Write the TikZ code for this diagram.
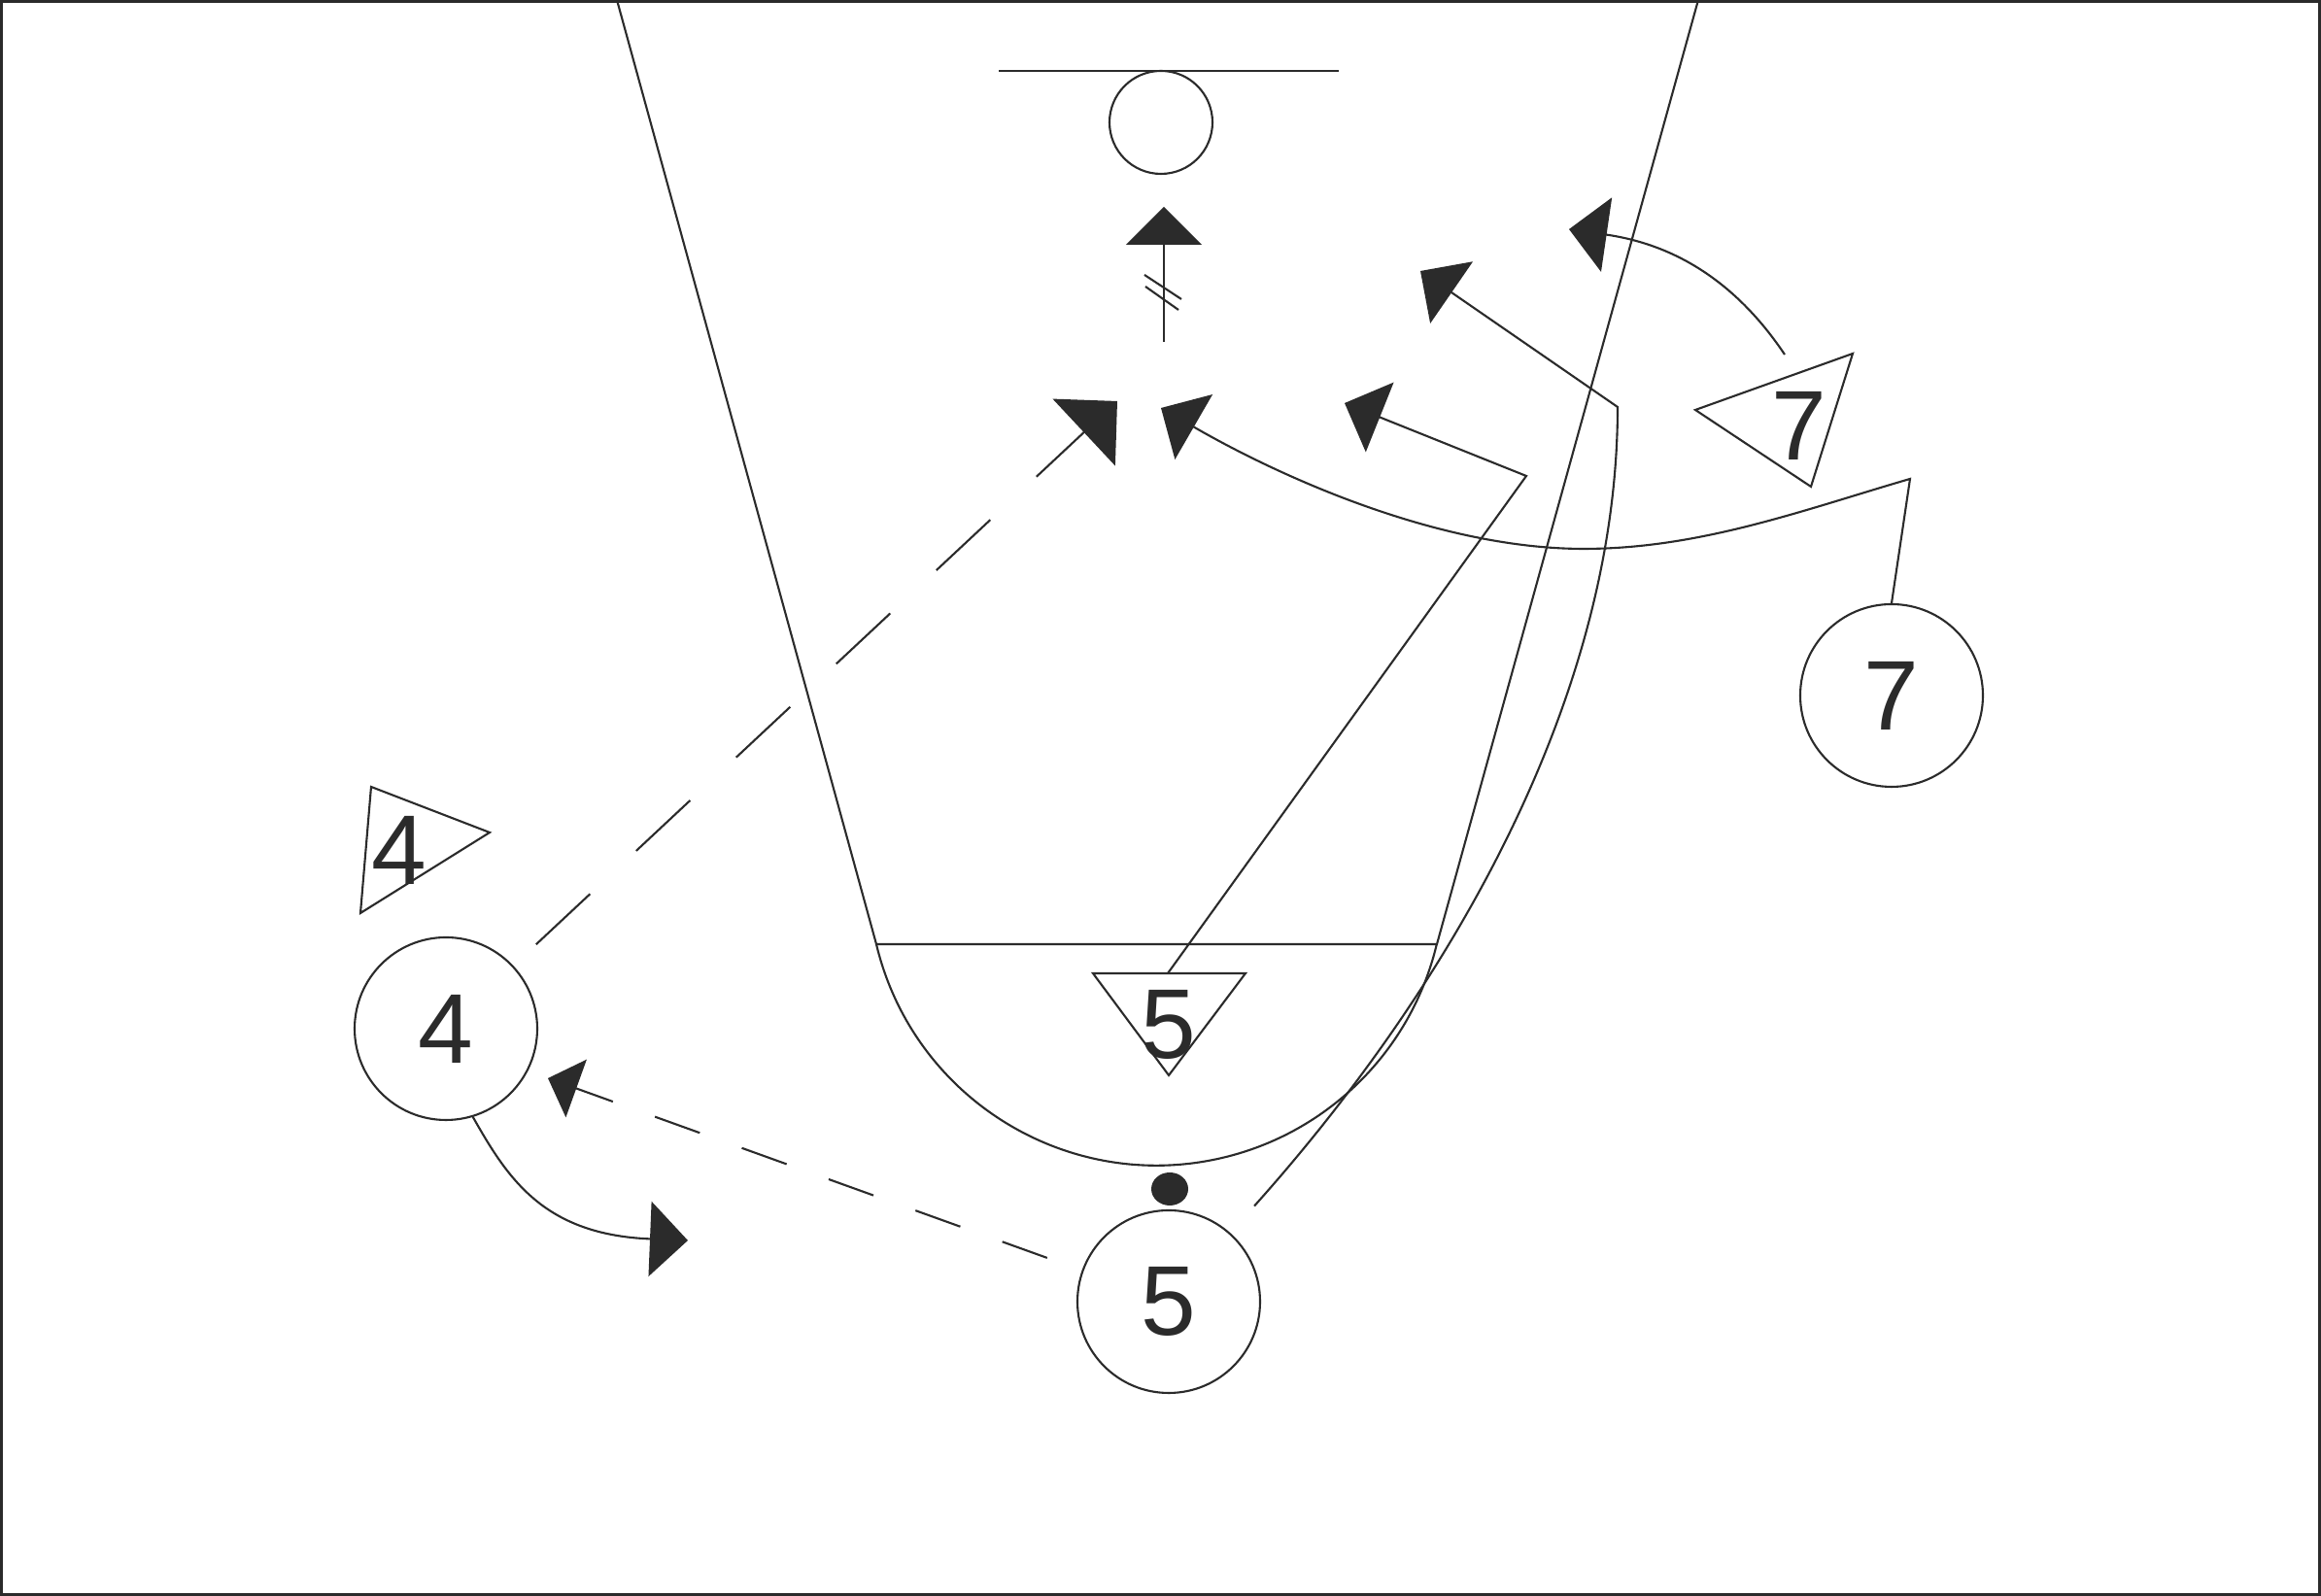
\documentclass[tikz,border=0pt]{standalone}
\usepackage{fontspec}
\setmainfont{Liberation Sans}
\usetikzlibrary{arrows.meta}
\definecolor{ink}{HTML}{2B2B2B}

\begin{document}
\begin{tikzpicture}[
      > = {Triangle[length=0.39cm, width=0.77cm]}, % arrow head style
      color = ink,
      line width = 0.6pt, % line style
    ]

    \tikzstyle{player}=[
      circle,
      draw,
      minimum size = 1.88cm,
      inner sep = 0pt,
      font = \fontsize{29}{30}\selectfont
    ]
    \tikzstyle{defender}=[
      inner sep = 0pt,
      font = \fontsize{29}{30}\selectfont
    ]
    \tikzstyle{pass}=[dash pattern = on 0.76cm off 0.65cm]
    \tikzstyle{handoff}=[dash pattern = on 0.49cm off 0.46cm]

    \useasboundingbox (0,0) rectangle (23.89,16.43);
    \draw[line width = 0.8pt] (0.015,0.015) rectangle (23.875,16.415);

    % court
    \draw (6.35,16.43) -- (9.02,6.71) -- (14.79,6.71) -- (17.48,16.43);
    \draw (9.02,6.71) arc[start angle=193.4, end angle=346.6, radius=2.965];
    \draw (10.28,15.70) -- (13.78,15.70);
    \draw (11.95,15.17) circle (0.53);

    % offense
    \node[player] (o4) [at={(4.59,5.84)}] {4};
    \node[player] (o5) [at={(12.03,3.03)}] {5};
    \node[player] (o7) [at={(19.47,9.27)}] {7};
    \fill (12.04,4.19) ellipse [x radius=0.19, y radius=0.17];

    % defense
    \node[defender] (x4) [at={(4.11,7.68)}] {4};
    \node[defender] (x5) [at={(12.03,5.88)}] {5};
    \node[defender] (x7) [at={(18.52,12.05)}] {7};
    \draw (3.82,8.33) -- (5.04,7.86) -- (3.71,7.03) -- cycle;
    \draw (11.25,6.41) -- (12.82,6.41) -- (12.03,5.36) -- cycle;
    \draw (17.45,12.21) -- (19.07,12.79) -- (18.64,11.42) -- cycle;

    % ends of the moves
    \coordinate (shotfrom) at (11.98,12.91);
    \coordinate (shot) at (11.98,14.30);
    \coordinate (x5top) at (12.02,6.41);
    \coordinate (x7top) at (18.37,12.78);
    \coordinate (cut4) at (7.08,3.66);
    \coordinate (cut5) at (14.62,13.64);
    \coordinate (cut7) at (11.95,12.23);
    \coordinate (help5) at (13.84,12.28);
    \coordinate (help7) at (16.15,14.07);
    \coordinate (pass4) at (11.50,12.30);
    \coordinate (pass5) at (5.64,5.33);

    % passes
    \path[->, pass, >={Triangle[length=0.47cm, width=0.94cm]}]
      (o4) edge[shorten <= 0.32cm] (pass4);
    \path[->, handoff, >={Triangle[length=0.31cm, width=0.63cm]}]
      (o5) edge[shorten <= 0.38cm] (pass5);

    % shot
    \draw[->, >={Triangle[length=0.39cm, width=0.78cm]}] (shotfrom) -- (shot);
    \draw (11.78,13.60) -- (12.16,13.35);
    \draw (11.79,13.48) -- (12.13,13.24);

    % cuts
    \draw[->] (o4.-73) .. controls (5.23,4.29) and (5.60,3.72) .. (cut4);
    \draw[->, shorten <= 0.37cm] (o5) .. controls (14.91,6.25) and (16.65,9.24)
      .. (16.65,12.24) -- (cut5);
    \draw[->] (o7.north) -- (19.66,11.50)
      .. controls (18.56,11.18) and (17.50,10.78) .. (16.30,10.78)
      .. controls (14.80,10.78) and (13.16,11.53) .. (cut7);

    % defense moves
    \draw[->] (x5top) -- (15.71,11.53) -- (help5);
    \draw[->] (x7top) .. controls (17.76,13.69) and (17.04,13.94) .. (help7);

  \end{tikzpicture}
\end{document}
